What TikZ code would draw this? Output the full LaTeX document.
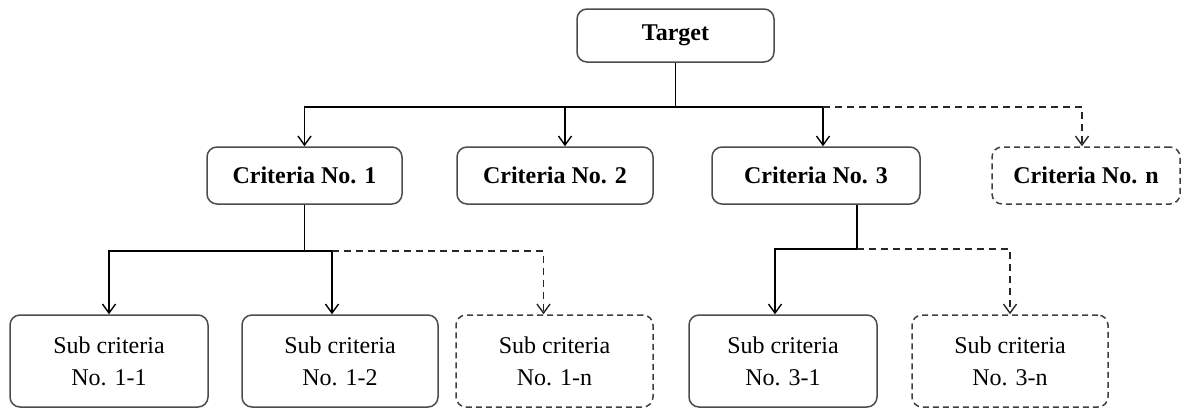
\documentclass[tikz,border=0pt]{standalone}
\usepackage{fontspec}
\setmainfont{Liberation Serif}
\usetikzlibrary{positioning, arrows.meta}

\tikzset{
  box/.style={draw=black!70, line width=1.5pt, rounded corners=10pt, align=center,
    fill=white, font=\fontsize{24}{32}\selectfont},
  mainbox/.style={box, font=\fontsize{24}{32}\selectfont\bfseries},
  dashbox/.style={draw=black!75, dash pattern=on 6pt off 4pt},
  link/.style={line width=1.5pt, -{Straight Barb[length=9pt, width=13pt, line width=1.4pt]}},
  dashlink/.style={link, draw=black!85, dash pattern=on 7pt off 5pt}
}

\begin{document}
\begin{tikzpicture}[x=1pt, y=-1pt]
    \useasboundingbox (0,0) rectangle (1183,408);

    % Draw the target
    \node[mainbox, minimum width=197, minimum height=53] (target) at (675.5,35.5) {Target};

    % Draw the criteria
    \foreach \name/\x/\w/\k in {c1/304.5/195/1, c2/555/196/2, c3/816/208/3} {
      \node[mainbox, minimum width=\w, minimum height=57] (\name) at (\x,175.5) {Criteria No. \k};
    }
    \node[mainbox, dashbox, minimum width=188, minimum height=57] (cn) at (1086,175.5) {Criteria No. n};

    % Draw the sub criteria
    \foreach \name/\x/\w/\k in {s11/109/198/1-1, s12/340/196/1-2, s31/783/188/3-1} {
      \node[box, minimum width=\w, minimum height=92] (\name) at (\x,361) {Sub criteria\\No. \k};
    }
    \node[box, dashbox, minimum width=197, minimum height=92] (s1n) at (554.5,361) {Sub criteria\\No. 1-n};
    \node[box, dashbox, minimum width=196, minimum height=92] (s3n) at (1010,361) {Sub criteria\\No. 3-n};

    % Connectors from the target
    \coordinate (busA) at (0,107);
    \draw[link] (target.south) -- (target.south |- busA) -| (c1.north);
    \draw[link] (target.south |- busA) -| ([xshift=10pt]c2.north);
    \draw[link] (target.south |- busA) -| ([xshift=7pt]c3.north);
    \draw[dashlink] ([xshift=7pt]c3.north |- busA) -| ([xshift=-4pt]cn.north);

    % Connectors from criteria 1
    \coordinate (busB) at (0,251);
    \draw[link] (c1.south) -- (c1.south |- busB) -| (s11.north);
    \draw[link] (c1.south |- busB) -| ([xshift=-8pt]s12.north);
    \draw[dashlink] ([xshift=-8pt]s12.north |- busB) -| ([xshift=-11pt]s1n.north);

    % Connectors from criteria 3
    \coordinate (busC) at (0,249);
    \coordinate (c3stem) at ([xshift=41pt]c3.south);
    \draw[link] (c3stem) -- (c3stem |- busC) -| ([xshift=-8pt]s31.north);
    \draw[dashlink] (c3stem |- busC) -| (s3n.north);
\end{tikzpicture}
\end{document}
